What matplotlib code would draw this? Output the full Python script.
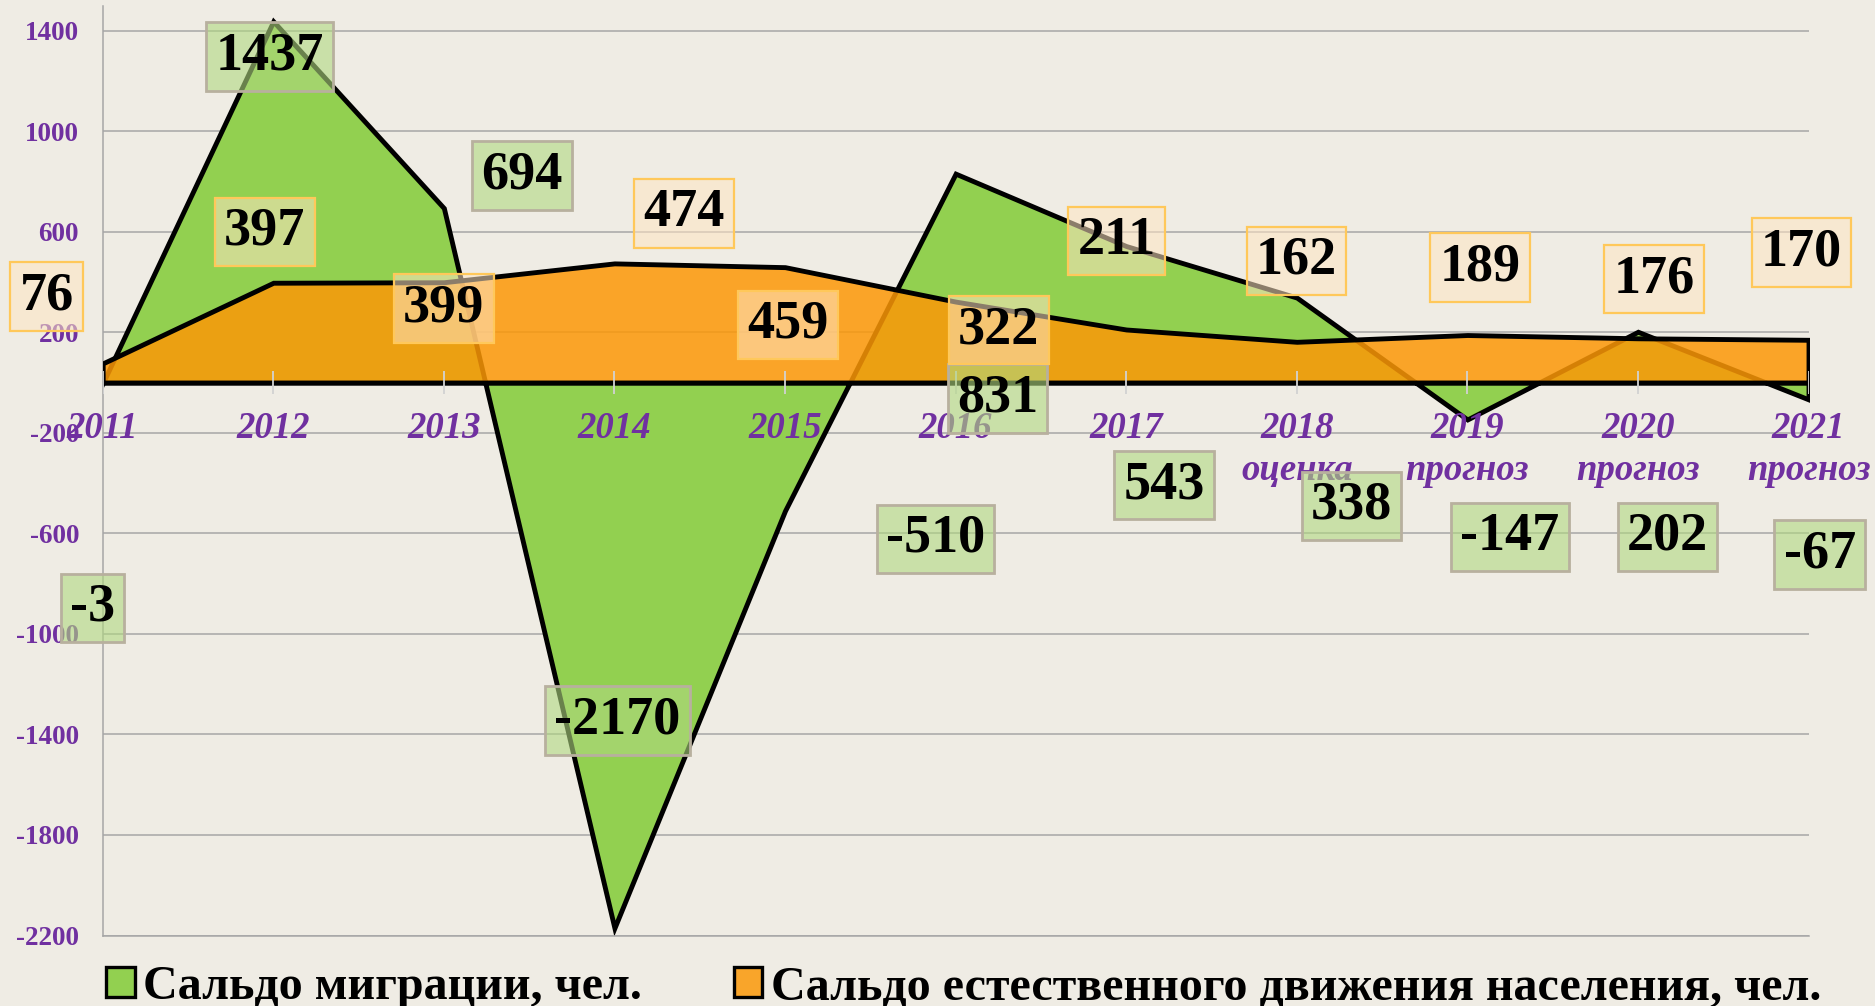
import matplotlib
matplotlib.use("Agg")
import matplotlib.pyplot as plt
from matplotlib.colors import to_rgba
from matplotlib.patches import Patch

# ---------------- data ----------------
years = [2011, 2012, 2013, 2014, 2015, 2016, 2017, 2018, 2019, 2020, 2021]
year_labels = ["2011", "2012", "2013", "2014", "2015", "2016", "2017", "2018", "2019", "2020", "2021"]
sub_labels = ["", "", "", "", "", "", "", "оценка", "прогноз", "прогноз", "прогноз"]
migration = [-3, 1437, 694, -2170, -510, 831, 543, 338, -147, 202, -67]
natural = [76, 397, 399, 474, 459, 322, 211, 162, 189, 176, 170]
series_names = ["Сальдо миграции, чел.", "Сальдо естественного движения населения, чел."]
y_ticks = [-2200, -1800, -1400, -1000, -600, -200, 200, 600, 1000, 1400]

# data-label box positions (layout, in data coordinates)
mig_lbl_x = [2010.94, 2011.978, 2013.456, 2014.016, 2015.881, 2016.246, 2017.223, 2018.321, 2019.249, 2020.174, 2021.066]
mig_lbl_y = [-897, 1297, 823, -1344, -622, -63, -408, -491, -614, -614, -684]
nat_lbl_x = [2010.672, 2011.951, 2012.999, 2014.407, 2015.019, 2016.254, 2016.944, 2017.999, 2019.073, 2020.095, 2020.959]
nat_lbl_y = [343, 600, 295, 673, 229, 208, 564, 484, 458, 411, 517]

# ---------------- style ----------------
BG = "#EFECE4"
GREEN = "#92D050"
ORANGE = "#FC9807"
LEG_ORANGE = "#F9A52A"
PURPLE = "#7030A0"
GRID = "#A6A6A6"
SERIF = "Liberation Serif"

W, H = 1875, 1006
fig = plt.figure(figsize=(W / 100, H / 100), dpi=100, facecolor=BG)
left_px, right_px, top_px, bot_px = 102.7, 1808.5, 6, 935.5
ax = fig.add_axes([left_px / W, (H - bot_px) / H, (right_px - left_px) / W, (bot_px - top_px) / H])
ax.set_facecolor(BG)
ax.set_xlim(2011, 2021)
ax.set_ylim(-2200, 1498)

ax.set_yticks(y_ticks)
ax.set_yticklabels([str(v) for v in y_ticks], color=PURPLE, fontsize=19.5,
                   fontweight="bold", family=SERIF)
ax.tick_params(axis="y", length=0, pad=17)
ax.set_xticks([])
ax.yaxis.grid(True, color=GRID, lw=1.1)
ax.set_axisbelow(True)
for s in ["top", "right"]:
    ax.spines[s].set_visible(False)
for s in ["left", "bottom"]:
    ax.spines[s].set_color(GRID)
    ax.spines[s].set_linewidth(1.1)

# areas
ax.fill_between(years, migration, 0, facecolor=GREEN, edgecolor="black",
                lw=3.5, joinstyle="miter", zorder=2)
ax.fill_between(years, natural, 0, facecolor=to_rgba(ORANGE, 0.85), edgecolor="black",
                lw=3.5, joinstyle="miter", zorder=3)

# small tick marks on the zero line
ax.vlines(years, -44, 44, color="#D2D2D2", lw=1.3, zorder=4)

# category labels
for x, t, st in zip(years, year_labels, sub_labels):
    ax.text(x, -222, t, ha="center", va="baseline", color=PURPLE, fontsize=26.5,
            fontweight="bold", fontstyle="italic", family=SERIF, zorder=6)
    if st:
        ax.text(x, -388, st, ha="center", va="baseline", color=PURPLE, fontsize=26.5,
                fontweight="bold", fontstyle="italic", family=SERIF, zorder=6)

# data labels
for x, y, v in zip(mig_lbl_x, mig_lbl_y, migration):
    ax.text(x, y, str(v), ha="center", va="center", fontsize=39, fontweight="bold",
            family=SERIF, color="black", zorder=7, clip_on=False,
            bbox=dict(boxstyle="square,pad=0.17", fc=to_rgba("#B0D880", 0.6),
                      ec="#B8B09E", lw=2.0))
for x, y, v in zip(nat_lbl_x, nat_lbl_y, natural):
    ax.text(x, y, str(v), ha="center", va="center", fontsize=39, fontweight="bold",
            family=SERIF, color="black", zorder=8, clip_on=False,
            bbox=dict(boxstyle="square,pad=0.17", fc=to_rgba("#FFE5C3", 0.55),
                      ec="#FFC85A", lw=1.6))

# legend
handles = [Patch(facecolor=GREEN, edgecolor="black", lw=2.4),
           Patch(facecolor=LEG_ORANGE, edgecolor="black", lw=2.4)]
fig.legend(handles, series_names, loc="lower left", bbox_to_anchor=(106 / W, -0.003),
           ncol=2, frameon=False, borderpad=0, borderaxespad=0,
           handlelength=0.6, handleheight=0.6, handletextpad=0.18, columnspacing=1.9,
           prop={"family": SERIF, "weight": "bold", "size": 34.6})

fig.savefig("out.png", dpi=100, facecolor=BG)
